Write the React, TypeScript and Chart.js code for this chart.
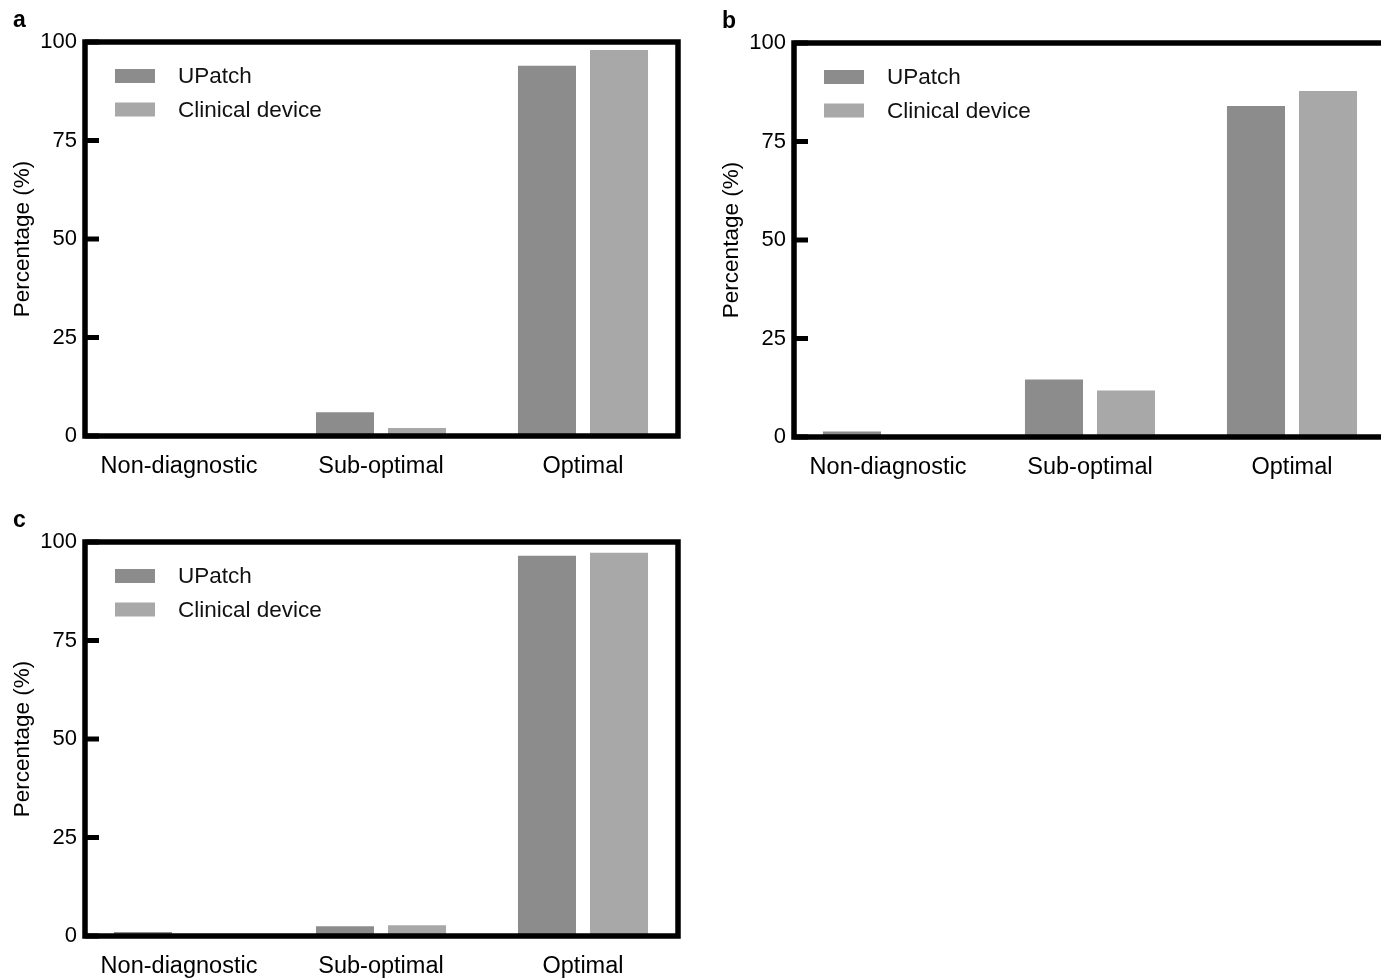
import React, { useEffect, useRef } from "react";
import { Chart, registerables } from "chart.js";

Chart.register(...registerables);

const categories = ["Non-diagnostic", "Sub-optimal", "Optimal"];
const seriesNames = ["UPatch", "Clinical device"];
const seriesColors = ["#8c8c8c", "#a8a8a8"];
const yTickValues = [0, 25, 50, 75, 100];
const yTitle = "Percentage (%)";

const panelA_UPatch = [0, 6, 94];
const panelA_Clinical = [0, 2, 98];
const panelB_UPatch = [1.4, 14.6, 84.0];
const panelB_Clinical = [0.4, 11.8, 87.8];
const panelC_UPatch = [1.0, 2.5, 96.5];
const panelC_Clinical = [0, 2.7, 97.3];

const FONT = "'Liberation Sans', Arial, Helvetica, sans-serif";

const framePlugin = {
  id: "frameTicksLegend",
  afterDatasetsDraw(chart: any, _args: any, opts: any) {
    const { ctx, chartArea } = chart;
    const L = chartArea.left + (opts.insetLeft || 0);
    const R = chartArea.right - (opts.insetRight || 0);
    const T = chartArea.top;
    const B = chartArea.bottom;
    ctx.save();
    ctx.strokeStyle = "#000";
    ctx.lineWidth = 5.5;
    ctx.lineJoin = "miter";
    ctx.strokeRect(L, T, R - L, B - T);
    const y = chart.scales.y;
    ctx.lineWidth = 5;
    y.ticks.forEach((t: any) => {
      const py = y.getPixelForValue(t.value);
      ctx.beginPath();
      ctx.moveTo(L, py);
      ctx.lineTo(L + 14, py);
      ctx.stroke();
    });
    // legend inside plot area
    ctx.font = `22.5px ${FONT}`;
    ctx.textBaseline = "middle";
    ctx.textAlign = "left";
    chart.data.datasets.forEach((ds: any, i: number) => {
      const cy = T + 34 + i * 33.5;
      ctx.fillStyle = ds.backgroundColor;
      ctx.fillRect(L + 30, cy - 7, 40, 14);
      ctx.fillStyle = "#111";
      ctx.fillText(ds.label, L + 93, cy + 1);
    });
    ctx.restore();
  },
};

function Panel(props: {
  letter: string;
  left: number;
  top: number;
  upatch: number[];
  clinical: number[];
}) {
  const ref = useRef<HTMLCanvasElement | null>(null);
  useEffect(() => {
    if (!ref.current) return;
    const chart = new Chart(ref.current, {
      type: "bar",
      data: {
        labels: categories,
        datasets: [
          { label: seriesNames[0], data: props.upatch, backgroundColor: seriesColors[0], categoryPercentage: 0.713, barPercentage: 0.806 },
          { label: seriesNames[1], data: props.clinical, backgroundColor: seriesColors[1], categoryPercentage: 0.713, barPercentage: 0.806 },
        ],
      },
      options: {
        animation: false,
        responsive: false,
        devicePixelRatio: 1,
        layout: { padding: { top: 42, right: 16, left: 0, bottom: 0 } },
        plugins: {
          legend: { display: false },
          tooltip: { enabled: false },
          frameTicksLegend: { insetLeft: 7, insetRight: 6 },
        } as any,
        scales: {
          x: {
            grid: { display: false, drawTicks: false },
            border: { display: false },
            ticks: { color: "#000", font: { family: FONT, size: 23.5 }, padding: 16, maxRotation: 0 },
            afterFit: (s: any) => { s.height = 54; },
          },
          y: {
            min: 0,
            max: 100,
            grid: { display: false, drawTicks: false },
            border: { display: false },
            afterBuildTicks: (s: any) => { s.ticks = yTickValues.map((v) => ({ value: v })); },
            ticks: { color: "#000", font: { family: FONT, size: 22 }, padding: 1 },
            title: { display: true, text: yTitle, color: "#000", font: { family: FONT, size: 22.5 }, padding: { top: 9, bottom: 0 } },
            afterFit: (s: any) => { s.width = 78; },
          },
        },
      },
      plugins: [framePlugin],
    });
    return () => chart.destroy();
  }, []);
  return (
    <div style={{ position: "absolute", left: props.left, top: props.top, width: 700, height: 490 }}>
      <canvas ref={ref} width={700} height={490} style={{ width: 700, height: 490, display: "block" }} />
      <div
        style={{
          position: "absolute",
          left: 13,
          top: 8,
          font: `bold 23px ${FONT}`,
          lineHeight: "22px",
          color: "#000",
        }}
      >
        {props.letter}
      </div>
    </div>
  );
}

export default function App() {
  return (
    <div style={{ position: "fixed", left: 0, top: 0, width: 1381, height: 978, overflow: "hidden", background: "#fff" }}>
      <Panel letter="a" left={0} top={0} upatch={panelA_UPatch} clinical={panelA_Clinical} />
      <Panel letter="b" left={709} top={1} upatch={panelB_UPatch} clinical={panelB_Clinical} />
      <Panel letter="c" left={0} top={500} upatch={panelC_UPatch} clinical={panelC_Clinical} />
    </div>
  );
}
